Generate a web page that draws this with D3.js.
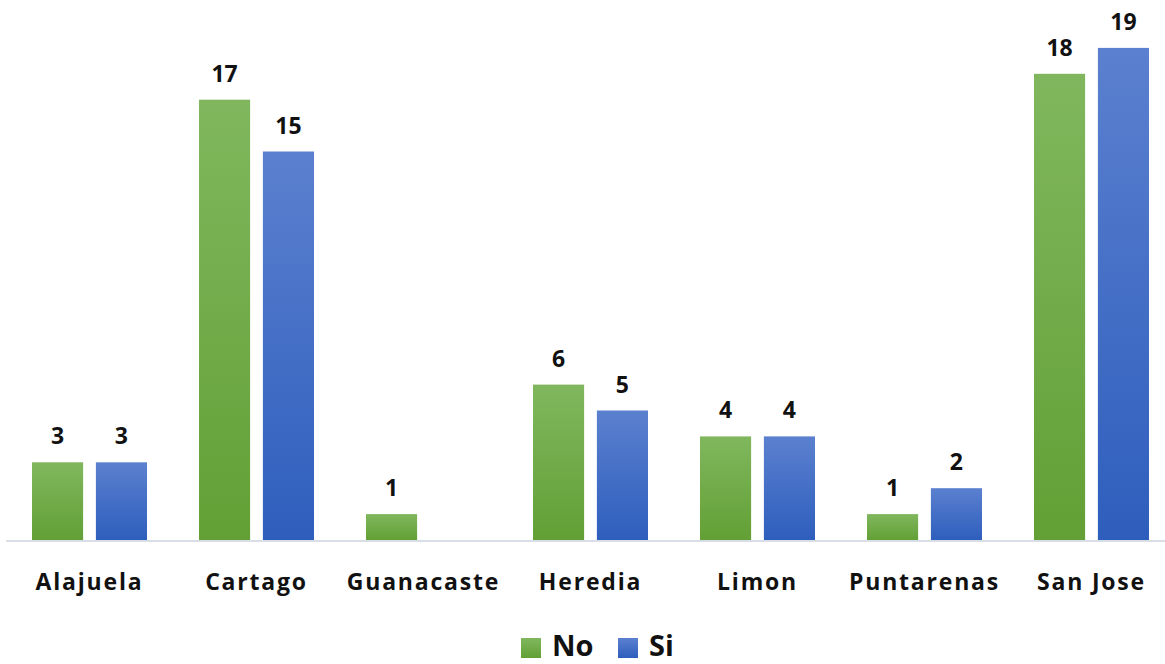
<!DOCTYPE html>
<html><head><meta charset="utf-8">
<script src="https://cdn.jsdelivr.net/npm/d3@7"></script>
<style>body{margin:0;background:#fff}svg{display:block}</style>
</head><body>
<svg id="c" width="1165" height="664"></svg>
<script>
const categories = ["Alajuela","Cartago","Guanacaste","Heredia","Limon","Puntarenas","San Jose"];
const seriesNames = ["No","Si"];
const noValues = [3,17,1,6,4,1,18];
const siValues = [3,15,null,5,4,2,19];

const svg = d3.select("#c");
const font = "'Open Sans', sans-serif";
const defs = svg.append("defs");
const grads = [
  {id:"gNo", top:"#80b75e", bot:"#62a035"},
  {id:"gSi", top:"#5b80cf", bot:"#2e5ebd"}
];
grads.forEach(g=>{
  const lg = defs.append("linearGradient").attr("id",g.id).attr("x1",0).attr("y1",0).attr("x2",0).attr("y2",1);
  lg.append("stop").attr("offset","0%").attr("stop-color",g.top);
  lg.append("stop").attr("offset","100%").attr("stop-color",g.bot);
});

const x0 = d3.scaleBand().domain(categories).range([6,1175]).paddingInner(0).paddingOuter(0);
const x1 = d3.scaleBand().domain(seriesNames).range([26, x0.bandwidth()-26]).paddingInner(0.2).paddingOuter(0);
const y = d3.scaleLinear().domain([0,20]).range([540,22]);

const data = categories.map((c,i)=>({cat:c, vals:[{s:"No",v:noValues[i]},{s:"Si",v:siValues[i]}]}));

const g = svg.append("g");
const groups = g.selectAll("g.grp").data(data).join("g").attr("transform",d=>`translate(${x0(d.cat)},0)`);
groups.selectAll("rect").data(d=>d.vals.filter(v=>v.v!=null)).join("rect")
  .attr("x",d=>x1(d.s)).attr("width",x1.bandwidth())
  .attr("y",d=>y(d.v)).attr("height",d=>y(0)-y(d.v))
  .attr("fill",d=>d.s==="No"?"url(#gNo)":"url(#gSi)");
groups.selectAll("text.val").data(d=>d.vals.filter(v=>v.v!=null)).join("text")
  .attr("class","val")
  .attr("x",d=>x1(d.s)+x1.bandwidth()/2).attr("y",d=>y(d.v)-18)
  .attr("text-anchor","middle").attr("font-family",font).attr("font-weight","bold")
  .attr("font-size",23).attr("fill","#111").text(d=>d.v);

// axis line
svg.append("line").attr("x1",6).attr("x2",1165).attr("y1",y(0)+1).attr("y2",y(0)+1)
  .attr("stroke","#d9dde6").attr("stroke-width",2);

// category labels
const xAxis = d3.axisBottom(x0).tickSize(0).tickPadding(0);
const ax = svg.append("g").attr("transform",`translate(0,${y(0)})`).call(xAxis);
ax.select(".domain").remove();
ax.selectAll("text").attr("font-family",font).attr("font-weight","bold").attr("font-size",23)
  .attr("letter-spacing","1.8px")
  .attr("fill","#111").attr("dy",0).attr("y",50);

// legend
const legend = svg.append("g");
const legItems = [{n:"No",fill:"url(#gNo)",x:521},{n:"Si",fill:"url(#gSi)",x:618}];
legItems.forEach(it=>{
  legend.append("rect").attr("x",it.x).attr("y",638).attr("width",20).attr("height",20).attr("fill",it.fill);
  legend.append("text").attr("x",it.x+31).attr("y",656).attr("font-family",font).attr("font-weight","bold")
    .attr("font-size",29).attr("fill","#111").text(it.n);
});
</script>
</body></html>
